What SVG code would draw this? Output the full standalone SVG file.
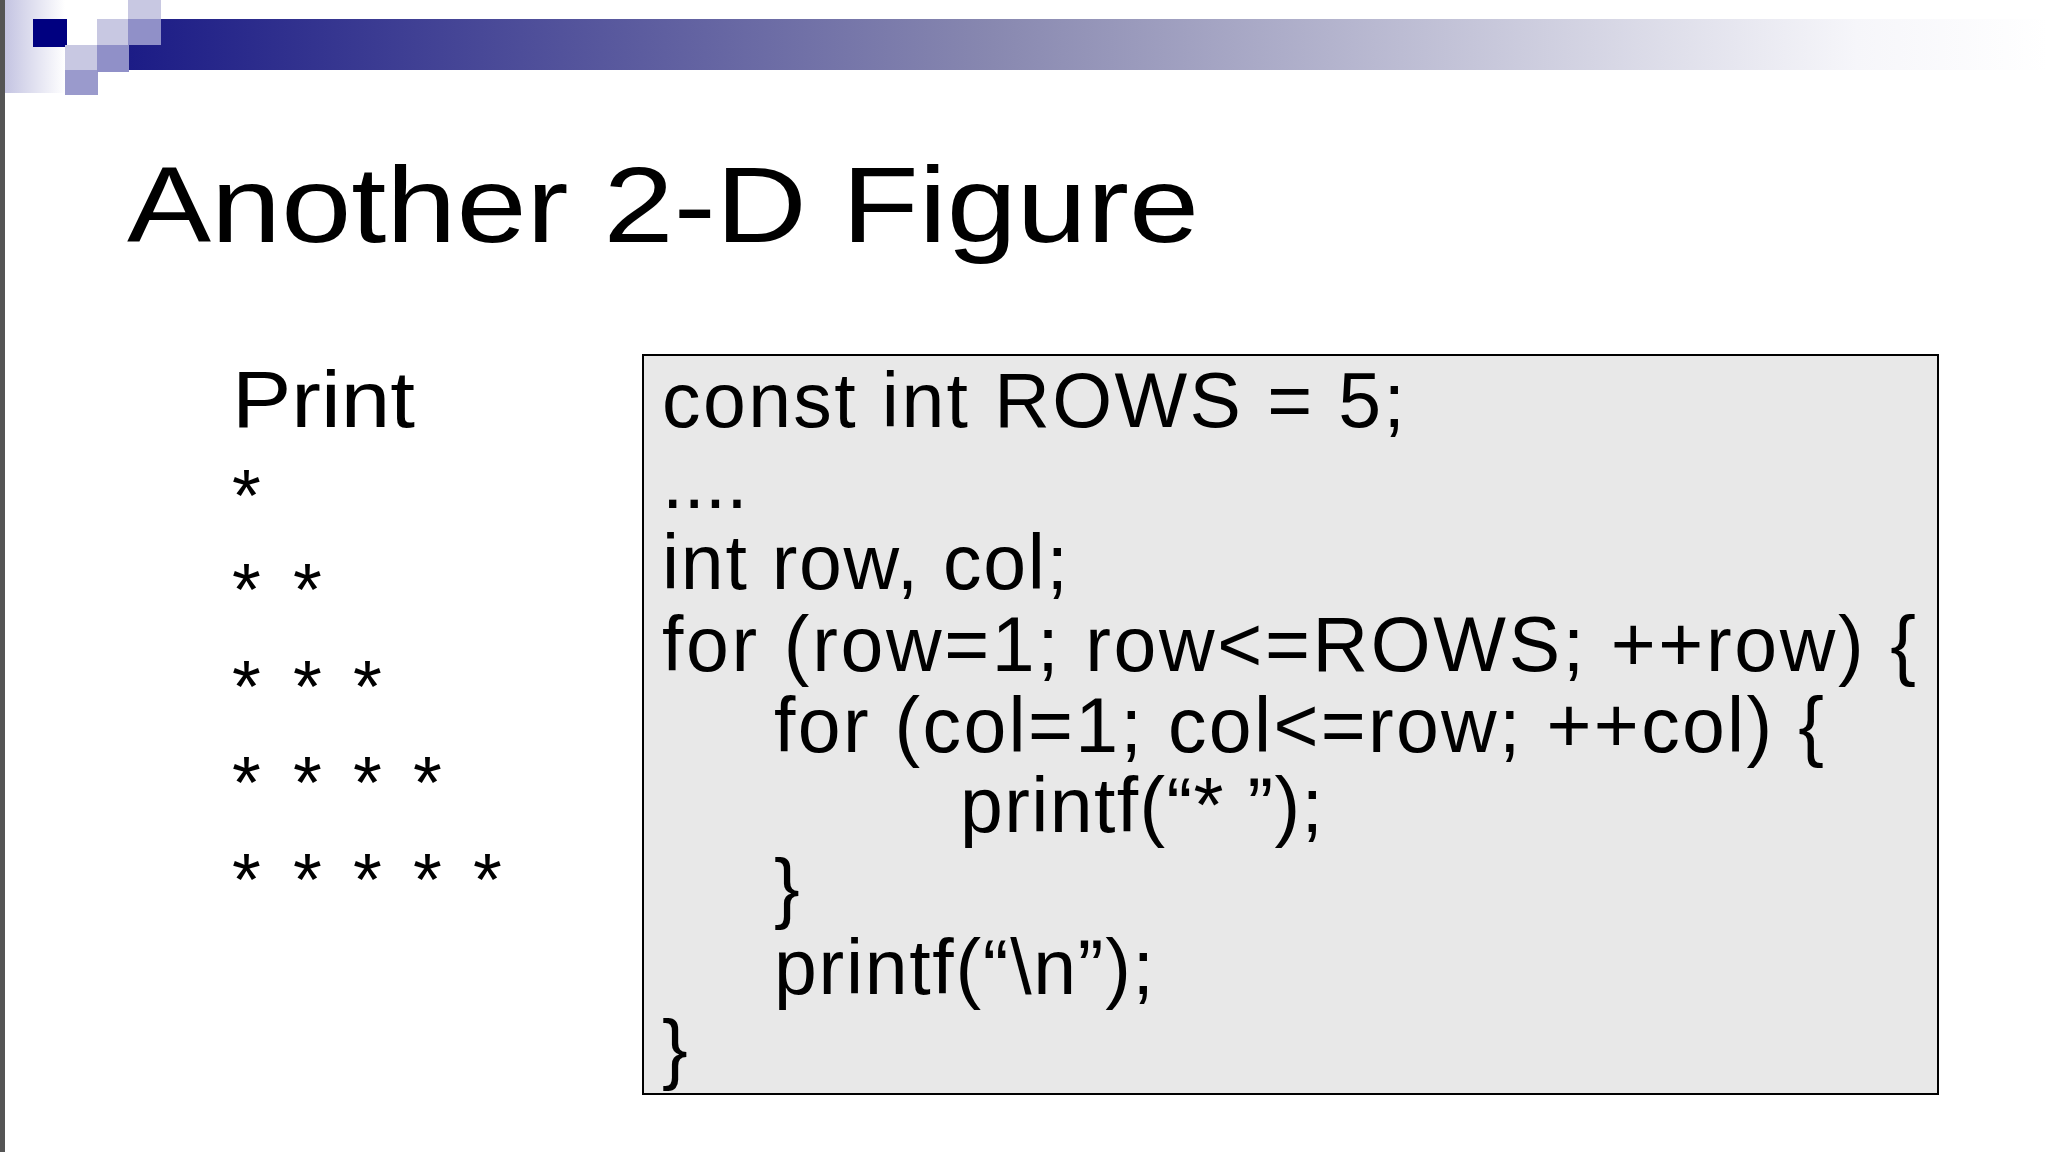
<svg xmlns="http://www.w3.org/2000/svg" width="2048" height="1152" viewBox="0 0 2048 1152">
<defs>
<linearGradient id="bar" x1="0" x2="1" y1="0" y2="0">
<stop offset="0" stop-color="#1c1c86"/>
<stop offset="0.45" stop-color="#8888b0"/>
<stop offset="0.9" stop-color="#f6f6fa"/>
<stop offset="1" stop-color="#ffffff"/>
</linearGradient>
<linearGradient id="lite" x1="0" x2="1" y1="0" y2="0">
<stop offset="0" stop-color="#c4c4e2"/>
<stop offset="1" stop-color="#ffffff"/>
</linearGradient>
</defs>
<style>
.t{font-family:"Liberation Sans",Arial,sans-serif;fill:#000}
.code{font-size:77px}
.s{font-size:74px}
</style>
<rect width="2048" height="1152" fill="#fff"/>
<g id="header">
<rect x="129" y="19" width="1919" height="51" fill="url(#bar)"/>
<rect x="5" y="0" width="60" height="93" fill="url(#lite)"/>
<rect x="33" y="19" width="34" height="28" fill="#000080"/>
<rect x="65" y="45" width="32" height="25" fill="#c8c8e2"/>
<rect x="65" y="70" width="33" height="25" fill="#9a9acc"/>
<rect x="97" y="19" width="31" height="26" fill="#c8c8e2"/>
<rect x="97" y="45" width="32" height="27" fill="#9090c8"/>
<rect x="128" y="0" width="33" height="19" fill="#c8c8e2"/>
<rect x="128" y="19" width="33" height="26" fill="#9090c8"/>
<rect x="0" y="0" width="5" height="1152" fill="#555"/>
</g>
<text id="title" class="t" x="127" y="242" font-size="108" textLength="1072" lengthAdjust="spacingAndGlyphs">Another 2-D Figure</text>
<g id="left">
<text class="t" x="232" y="427" font-size="80" textLength="183" lengthAdjust="spacingAndGlyphs">Print</text>
<text class="t s" y="521"><tspan x="232">*</tspan></text>
<text class="t s" y="615"><tspan x="232">*</tspan><tspan x="293">*</tspan></text>
<text class="t s" y="712"><tspan x="232">*</tspan><tspan x="293">*</tspan><tspan x="353">*</tspan></text>
<text class="t s" y="808"><tspan x="232">*</tspan><tspan x="293">*</tspan><tspan x="353">*</tspan><tspan x="413">*</tspan></text>
<text class="t s" y="905"><tspan x="232">*</tspan><tspan x="293">*</tspan><tspan x="353">*</tspan><tspan x="413">*</tspan><tspan x="473">*</tspan></text>
</g>
<g id="codebox">
<rect x="643" y="355" width="1295" height="739" fill="#e8e8e8" stroke="#000" stroke-width="2"/>
<text class="t code" x="662" y="427" textLength="743">const int ROWS = 5;</text>
<text class="t code" x="662" y="508">....</text>
<text class="t code" x="662" y="589" textLength="406">int row, col;</text>
<text class="t code" x="662" y="671" textLength="1254">for (row=1; row&lt;=ROWS; ++row) {</text>
<text class="t code" x="774" y="752" textLength="1050">for (col=1; col&lt;=row; ++col) {</text>
<text class="t code" x="960" y="832" textLength="363">printf(“* ”);</text>
<text class="t code" x="774" y="914">}</text>
<text class="t code" x="774" y="994" textLength="380">printf(“\n”);</text>
<text class="t code" x="662" y="1075">}</text>
</g>
</svg>
